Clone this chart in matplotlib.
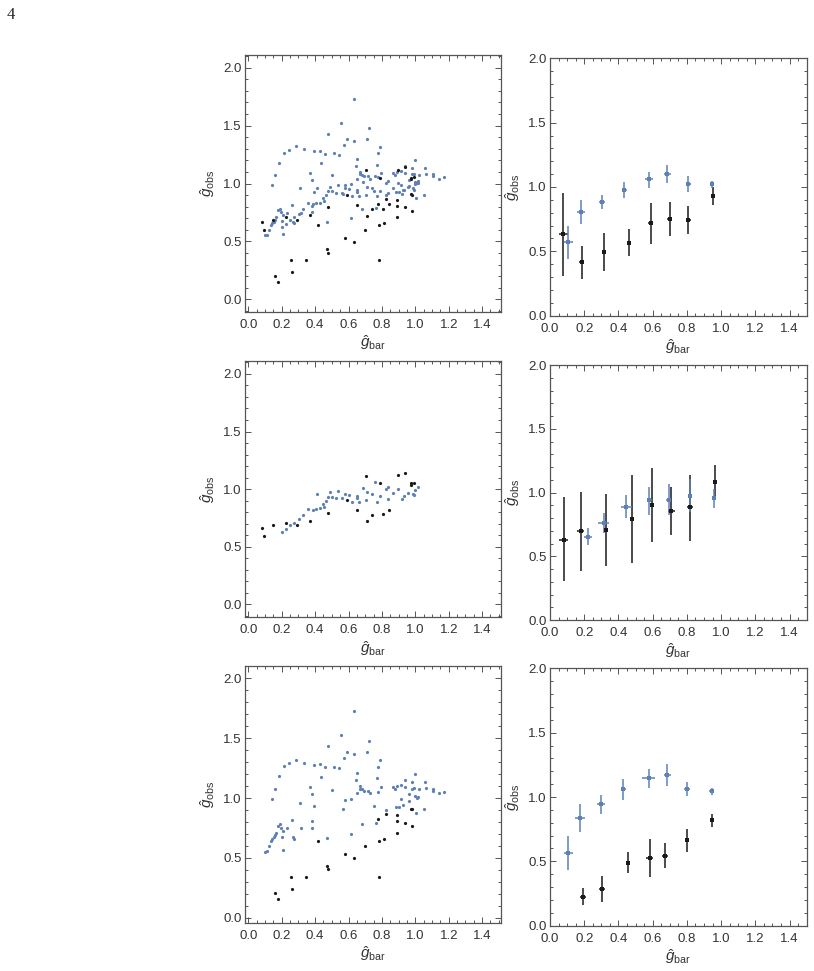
import numpy as np
import matplotlib
matplotlib.use("Agg")
import matplotlib.pyplot as plt
from matplotlib.ticker import MultipleLocator

plt.rcParams['font.family'] = ['Liberation Sans', 'DejaVu Sans']
plt.rcParams['mathtext.fontset'] = 'custom'
plt.rcParams['mathtext.rm'] = 'Liberation Sans'
plt.rcParams['mathtext.it'] = 'Liberation Sans:italic'

BLUE = '#5e81b5'
BLACK = '#1a1a1a'
FRAME = '#555555'
TEXT = '#333333'

# --- scatter data: "smooth" subset (middle row) ---
a_blue_x = [0.203, 0.225, 0.249, 0.273, 0.301, 0.329, 0.359, 0.387, 0.407, 0.431,
            0.413, 0.447, 0.451, 0.463, 0.475, 0.489, 0.499, 0.527, 0.538, 0.560,
            0.580, 0.600, 0.618, 0.648, 0.650, 0.662, 0.686, 0.706, 0.712, 0.738,
            0.760, 0.770, 0.788, 0.822, 0.838, 0.838, 0.866, 0.897, 0.921, 0.935,
            0.959, 0.985, 0.993, 0.997, 1.017]
a_blue_y = [0.625, 0.651, 0.686, 0.709, 0.741, 0.776, 0.828, 0.819, 0.831, 0.834,
            0.958, 0.871, 0.848, 0.897, 0.935, 0.972, 0.935, 0.920, 0.987, 0.920,
            0.958, 0.949, 0.891, 0.941, 0.923, 0.889, 1.013, 0.903, 0.972, 0.958,
            1.062, 0.891, 0.938, 1.001, 1.019, 0.917, 0.964, 1.001, 0.912, 0.941,
            0.970, 0.958, 0.946, 0.993, 1.022]
a_black_x = [0.084, 0.096, 0.148, 0.223, 0.291, 0.371, 0.479, 0.592, 0.652, 0.702,
             0.712, 0.742, 0.790, 0.804, 0.840, 0.897, 0.941, 0.973, 0.975, 0.993]
a_black_y = [0.666, 0.596, 0.686, 0.709, 0.689, 0.724, 0.796, 0.903, 0.816, 1.114,
             0.721, 0.779, 1.051, 0.781, 0.819, 1.120, 1.140, 1.039, 1.051, 1.054]

# --- scatter data: remaining subset (bottom row) ---
b_blue_x = [0.100, 0.112, 0.124, 0.136, 0.144, 0.152, 0.160, 0.168, 0.144, 0.162,
            0.183, 0.180, 0.191, 0.195, 0.199, 0.207, 0.207, 0.211, 0.231, 0.243,
            0.263, 0.267, 0.271, 0.283, 0.315, 0.311, 0.331, 0.367, 0.379, 0.383,
            0.383, 0.391, 0.391, 0.431, 0.435, 0.459, 0.471, 0.479, 0.499, 0.515,
            0.543, 0.553, 0.564, 0.574, 0.580, 0.592, 0.612, 0.614, 0.630, 0.630,
            0.644, 0.650, 0.650, 0.670, 0.666, 0.678, 0.682, 0.694, 0.710, 0.714,
            0.722, 0.730, 0.752, 0.764, 0.768, 0.774, 0.778, 0.786, 0.796, 0.826,
            0.864, 0.880, 0.882, 0.892, 0.902, 0.913, 0.917, 0.925, 0.937, 0.937,
            0.961, 0.965, 0.981, 0.981, 0.993, 0.997, 0.997, 1.005, 1.013, 1.021,
            1.009, 1.049, 1.057, 1.065, 1.105, 1.105, 1.141, 1.169]
b_blue_y = [0.552, 0.557, 0.602, 0.643, 0.655, 0.671, 0.688, 0.708, 0.991, 1.072,
            1.181, 0.769, 0.780, 0.752, 0.677, 0.727, 0.565, 1.265, 0.747, 1.290,
            0.813, 0.671, 0.660, 1.320, 0.747, 0.961, 1.295, 1.092, 1.033, 0.808,
            0.752, 0.930, 1.279, 1.284, 1.176, 1.256, 0.666, 1.432, 1.070, 1.262,
            1.248, 1.524, 0.908, 1.337, 0.986, 1.384, 0.992, 0.702, 1.730, 1.370,
            1.150, 1.212, 1.039, 1.097, 1.078, 1.072, 0.783, 1.061, 1.387, 1.061,
            1.479, 1.039, 0.933, 0.791, 1.164, 1.262, 1.053, 1.315, 1.089, 0.897,
            1.089, 1.075, 0.925, 1.103, 0.928, 0.989, 1.106, 0.944, 1.095, 1.150,
            0.975, 1.031, 1.134, 1.078, 1.081, 1.201, 1.017, 0.872, 1.008, 1.072,
            1.003, 0.905, 1.137, 1.084, 1.078, 1.061, 1.039, 1.053]
b_black_x = [0.160, 0.180, 0.255, 0.263, 0.347, 0.415, 0.471, 0.479, 0.576, 0.634,
             0.698, 0.774, 0.782, 0.782, 0.812, 0.822, 0.892, 0.892, 0.892, 0.941,
             0.973, 0.983, 0.979]
b_black_y = [0.203, 0.153, 0.340, 0.240, 0.337, 0.638, 0.432, 0.404, 0.532, 0.499,
             0.602, 0.827, 0.643, 0.343, 0.655, 0.864, 0.861, 0.805, 0.710, 0.794,
             0.911, 0.905, 0.766]

# --- binned data (right column) ---
top_blue_x = [0.108, 0.182, 0.304, 0.435, 0.578, 0.685, 0.809, 0.948]
top_blue_y = [0.570, 0.806, 0.883, 0.977, 1.060, 1.104, 1.026, 1.021]
top_blue_lo = [0.440, 0.712, 0.826, 0.917, 0.995, 1.034, 0.959, 0.995]
top_blue_hi = [0.699, 0.902, 0.940, 1.036, 1.117, 1.171, 1.085, 1.047]
top_blue_xerr = [0.026, 0.025, 0.020, 0.017, 0.025, 0.020, 0.014, 0.010]
top_black_x = [0.078, 0.186, 0.317, 0.462, 0.589, 0.699, 0.809, 0.955]
top_black_y = [0.632, 0.417, 0.497, 0.567, 0.718, 0.754, 0.744, 0.933]
top_black_lo = [0.308, 0.288, 0.347, 0.461, 0.554, 0.622, 0.637, 0.860]
top_black_hi = [0.951, 0.544, 0.645, 0.671, 0.873, 0.881, 0.855, 0.997]
top_black_xerr = [0.026, 0.015, 0.012, 0.011, 0.014, 0.015, 0.012, 0.005]

mid_blue_x = [0.223, 0.313, 0.446, 0.579, 0.693, 0.820, 0.961]
mid_blue_y = [0.653, 0.762, 0.890, 0.940, 0.945, 0.971, 0.958]
mid_blue_lo = [0.585, 0.681, 0.799, 0.822, 0.820, 0.846, 0.877]
mid_blue_hi = [0.718, 0.841, 0.982, 1.044, 1.065, 1.102, 1.031]
mid_blue_xerr = [0.024, 0.033, 0.032, 0.015, 0.014, 0.006, 0.005]
mid_black_x = [0.080, 0.180, 0.327, 0.481, 0.597, 0.708, 0.820, 0.967]
mid_black_y = [0.627, 0.695, 0.702, 0.794, 0.901, 0.856, 0.883, 1.081]
mid_black_lo = [0.303, 0.386, 0.420, 0.449, 0.614, 0.663, 0.621, 0.943]
mid_black_hi = [0.961, 1.003, 0.987, 1.141, 1.191, 1.047, 1.138, 1.217]
mid_black_xerr = [0.027, 0.020, 0.012, 0.005, 0.008, 0.021, 0.018, 0.004]

bot_blue_x = [0.106, 0.176, 0.298, 0.429, 0.576, 0.685, 0.799, 0.946]
bot_blue_y = [0.566, 0.834, 0.943, 1.065, 1.148, 1.171, 1.062, 1.044]
bot_blue_lo = [0.436, 0.725, 0.868, 0.979, 1.073, 1.083, 1.005, 1.018]
bot_blue_hi = [0.694, 0.943, 1.016, 1.143, 1.216, 1.255, 1.117, 1.073]
bot_blue_xerr = [0.026, 0.028, 0.026, 0.014, 0.039, 0.021, 0.018, 0.014]
bot_black_x = [0.194, 0.304, 0.458, 0.583, 0.670, 0.803, 0.946]
bot_black_y = [0.225, 0.283, 0.490, 0.524, 0.544, 0.665, 0.818]
bot_black_lo = [0.161, 0.182, 0.407, 0.378, 0.448, 0.574, 0.764]
bot_black_hi = [0.290, 0.386, 0.570, 0.671, 0.640, 0.748, 0.870]
bot_black_xerr = [0.019, 0.020, 0.012, 0.020, 0.018, 0.012, 0.008]

W, H = 814, 971
fig = plt.figure(figsize=(W/100, H/100), dpi=100)


def make_axes(left, right, top, bottom):
    ax = fig.add_axes([left/W, 1 - bottom/H, (right - left)/W, (bottom - top)/H])
    for s in ax.spines.values():
        s.set_color(FRAME)
        s.set_linewidth(0.9)
    ax.xaxis.set_major_locator(MultipleLocator(0.2))
    ax.xaxis.set_minor_locator(MultipleLocator(0.05))
    ax.yaxis.set_major_locator(MultipleLocator(0.5))
    ax.yaxis.set_minor_locator(MultipleLocator(0.1))
    ax.tick_params(which='both', direction='in', top=True, right=True,
                   color=FRAME, labelcolor=TEXT, labelsize=9.5, width=0.7)
    ax.tick_params(which='major', length=4.5)
    ax.tick_params(which='minor', length=2.5)
    ax.tick_params(axis='x', pad=5)
    ax.tick_params(axis='y', pad=2.5)
    ax.xaxis.set_major_formatter(plt.FuncFormatter(lambda v, p: f'{v:.1f}'))
    ax.yaxis.set_major_formatter(plt.FuncFormatter(lambda v, p: f'{v:.1f}'))
    ax.set_xlabel(r'$\hat{g}_{\mathrm{bar}}$', fontsize=11, color=TEXT, va='center')
    ax.set_ylabel(r'$\hat{g}_{\mathrm{obs}}$', fontsize=11, color=TEXT, va='center')
    ax.xaxis.set_label_coords(0.5, -0.12)
    ax.yaxis.set_label_coords(-0.147, 0.5)
    return ax


def scatter(ax, bx, by, kx, ky):
    ax.plot(bx, by, 'o', color=BLUE, ms=2.3, mew=0, ls='none')
    ax.plot(kx, ky, 'o', color=BLACK, ms=2.3, mew=0, ls='none')


def binned(ax, x, y, lo, hi, xerr, color):
    y = np.array(y)
    yerr = [y - np.array(lo), np.array(hi) - y]
    ax.errorbar(x, y, yerr=yerr, xerr=xerr, fmt='s', color=color, ms=2.2,
                mew=0, elinewidth=1.1, capsize=2.2, capthick=1.1)


# left column: scatter plots
ax1 = make_axes(245, 501, 55, 311.7)
scatter(ax1, a_blue_x + b_blue_x, a_blue_y + b_blue_y,
        a_black_x + b_black_x, a_black_y + b_black_y)
ax1.set_xlim(-0.02, 1.513)
ax1.set_ylim(-0.107, 2.11)

ax3 = make_axes(245, 501, 360.7, 617.3)
scatter(ax3, a_blue_x, a_blue_y, a_black_x, a_black_y)
ax3.set_xlim(-0.02, 1.513)
ax3.set_ylim(-0.113, 2.115)

ax5 = make_axes(245, 501, 666, 922.7)
scatter(ax5, b_blue_x, b_blue_y, b_black_x, b_black_y)
ax5.set_xlim(-0.02, 1.513)
ax5.set_ylim(-0.042, 2.103)

# right column: binned means with errors
ax2 = make_axes(550, 806.7, 58.3, 315.7)
binned(ax2, top_black_x, top_black_y, top_black_lo, top_black_hi, top_black_xerr, BLACK)
binned(ax2, top_blue_x, top_blue_y, top_blue_lo, top_blue_hi, top_blue_xerr, BLUE)

ax4 = make_axes(550, 806.7, 365, 620)
binned(ax4, mid_black_x, mid_black_y, mid_black_lo, mid_black_hi, mid_black_xerr, BLACK)
binned(ax4, mid_blue_x, mid_blue_y, mid_blue_lo, mid_blue_hi, mid_blue_xerr, BLUE)

ax6 = make_axes(550, 806.7, 668.3, 925.7)
binned(ax6, bot_black_x, bot_black_y, bot_black_lo, bot_black_hi, bot_black_xerr, BLACK)
binned(ax6, bot_blue_x, bot_blue_y, bot_blue_lo, bot_blue_hi, bot_blue_xerr, BLUE)

for ax in (ax2, ax4, ax6):
    ax.set_xlim(0, 1.5)
    ax.set_ylim(0, 2.0)
    ax.yaxis.set_label_coords(-0.144, 0.5)

# page number
fig.text(7/W, 1 - 19/H, '4', fontsize=12, family=['Liberation Serif', 'DejaVu Serif'],
         color='#222222', va='baseline', ha='left')

fig.savefig('out.png', dpi=100)
